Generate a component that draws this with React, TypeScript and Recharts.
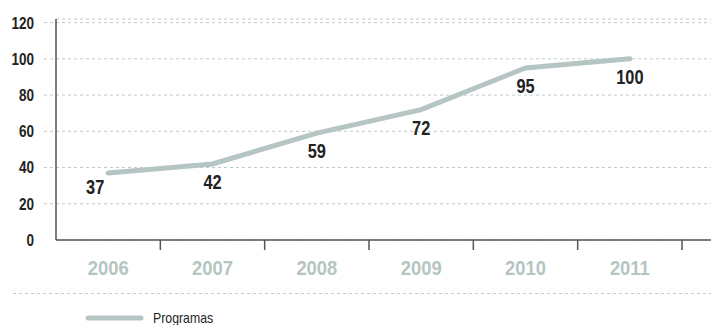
import {
  CartesianGrid,
  ComposedChart,
  LabelList,
  Legend,
  Line,
  XAxis,
  YAxis,
} from "recharts";

const YEARS = ["2006", "2007", "2008", "2009", "2010", "2011"];
const PROGRAMAS = [37, 42, 59, 72, 95, 100];
const Y_TICKS = [0, 20, 40, 60, 80, 100, 120];

const data = YEARS.map((year, i) => ({ year, programas: PROGRAMAS[i] }));

const FONT = '"Liberation Sans", Arial, sans-serif';
const LINE_COLOR = "#b4c5c3";
const GRID_COLOR = "#bccbc8";
const AXIS_COLOR = "#555";
const TEXT_COLOR = "#222";

// pas de police étroite installée : on resserre le texte à la main
const NarrowText = ({ x, y, anchor, size, fill, squeeze, children }: any) => (
  <text
    transform={`translate(${x},${y}) scale(${squeeze},1)`}
    dy="0.36em"
    textAnchor={anchor}
    fontFamily={FONT}
    fontWeight="bold"
    fontSize={size}
    fill={fill}
  >
    {children}
  </text>
);

const YTick = ({ x, y, payload }: any) => (
  <g>
    {payload.value !== 0 && (
      <line x1={44} x2={x} y1={y} y2={y} stroke={GRID_COLOR} strokeDasharray="3 3" />
    )}
    <NarrowText x={34} y={y} anchor="end" size={16.5} fill={TEXT_COLOR} squeeze={0.82}>
      {payload.value}
    </NarrowText>
  </g>
);

const XTick = ({ x, y, payload }: any) => {
  const half = payload.offset ?? 52;
  return (
    <g>
      <line
        x1={x + half}
        x2={x + half}
        y1={y}
        y2={y + 10}
        stroke={AXIS_COLOR}
        strokeWidth={1.5}
      />
      <NarrowText x={x} y={y + 28} anchor="middle" size={20} fill={LINE_COLOR} squeeze={0.92}>
        {payload.value}
      </NarrowText>
    </g>
  );
};

// l'étiquette de 2006 est décalée vers la gauche dans l'original
const PointLabel = ({ x, y, value, index }: any) => (
  <NarrowText
    x={x + (index === 0 ? -13 : 0)}
    y={y + (index === 0 ? 14 : 18)}
    anchor="middle"
    size={20}
    fill={TEXT_COLOR}
    squeeze={0.82}
  >
    {value}
  </NarrowText>
);

const LegendContent = () => (
  <div style={{ position: "relative", width: 711, height: 40 }}>
    <svg width={711} height={40} style={{ position: "absolute", left: 0, top: 0 }}>
      <line x1={13} x2={711} y1={8.5} y2={8.5} stroke={GRID_COLOR} strokeDasharray="3 3" />
      <line
        x1={88}
        x2={141}
        y1={33}
        y2={33}
        stroke={LINE_COLOR}
        strokeWidth={5}
        strokeLinecap="round"
      />
    </svg>
    <span
      style={{
        position: "absolute",
        left: 153,
        top: 24,
        lineHeight: "18px",
        fontFamily: FONT,
        fontSize: 15,
        color: TEXT_COLOR,
        transform: "scaleX(0.82)",
        transformOrigin: "left center",
        whiteSpace: "nowrap",
      }}
    >
      Programas
    </span>
  </div>
);

export default function App() {
  return (
    <div style={{ position: "absolute", left: 0, top: 0 }}>
      <ComposedChart
        width={711}
        height={325}
        data={data}
        margin={{ top: 19, right: 0, bottom: 0, left: 0 }}
      >
        <CartesianGrid
          vertical={false}
          stroke={GRID_COLOR}
          strokeDasharray="3 3"
        />
        <XAxis
          dataKey="year"
          scale="band"
          interval={0}
          height={45}
          padding={{ left: 0, right: 29 }}
          axisLine={{ stroke: AXIS_COLOR, strokeWidth: 1.5 }}
          tickLine={false}
          tickSize={0}
          tickMargin={0}
          tick={<XTick />}
        />
        <YAxis
          width={56}
          domain={[0, 122]}
          ticks={Y_TICKS}
          interval={0}
          axisLine={{ stroke: AXIS_COLOR, strokeWidth: 1.5 }}
          tickLine={false}
          tickSize={0}
          tickMargin={0}
          tick={<YTick />}
        />
        <Legend verticalAlign="bottom" content={<LegendContent />} />
        <Line
          type="linear"
          dataKey="programas"
          stroke={LINE_COLOR}
          strokeWidth={5}
          strokeLinecap="round"
          dot={false}
          activeDot={false}
          isAnimationActive={false}
        >
          <LabelList dataKey="programas" content={<PointLabel />} />
        </Line>
      </ComposedChart>
    </div>
  );
}
